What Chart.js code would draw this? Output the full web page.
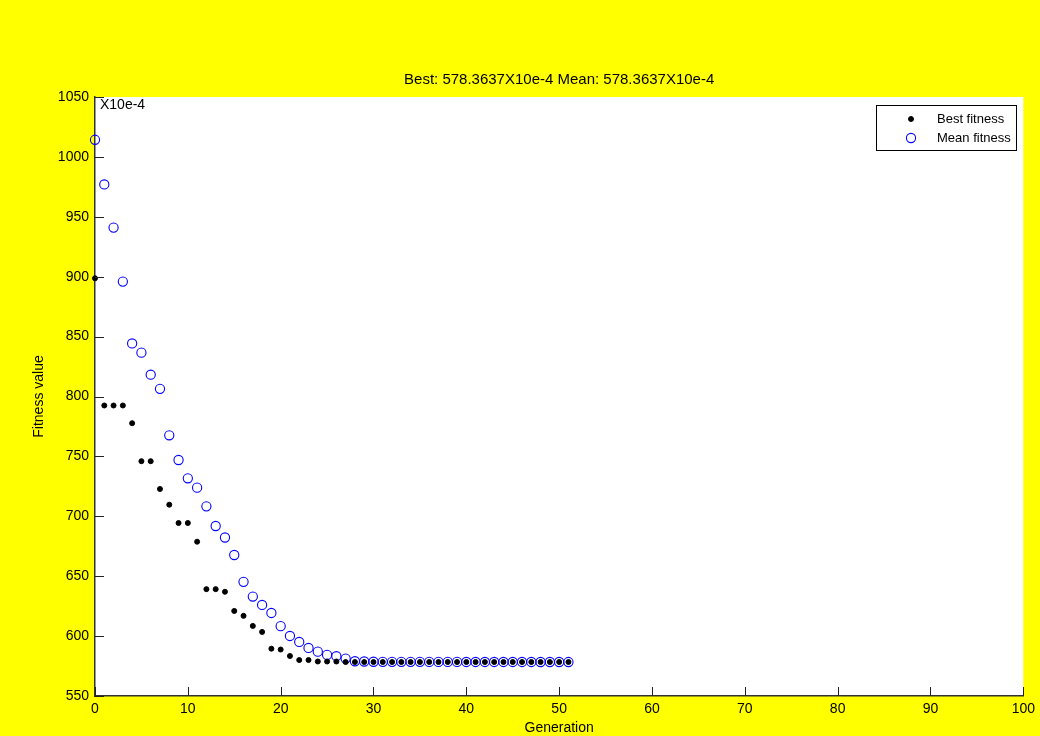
<!DOCTYPE html>
<html>
<head>
<meta charset="utf-8">
<script src="https://cdn.jsdelivr.net/npm/chart.js@4"></script>
<style>
html,body{margin:0;padding:0;background:#ffff00;}
canvas{display:block;}
</style>
</head>
<body>
<canvas id="c" width="1040" height="736"></canvas>
<script>
const generations = [0,1,2,3,4,5,6,7,8,9,10,11,12,13,14,15,16,17,18,19,20,21,22,23,24,25,26,27,28,29,30,31,32,33,34,35,36,37,38,39,40,41,42,43,44,45,46,47,48,49,50,51];
const bestFitness = [898.7,792.5,792.5,792.5,777.7,746,746,722.8,709.7,694.4,694.4,678.8,639.2,639.2,637,621,616.9,608.5,603.5,589.5,588.8,583.4,580,580,578.8,578.8,578.8,578.3637,578.3637,578.3637,578.3637,578.3637,578.3637,578.3637,578.3637,578.3637,578.3637,578.3637,578.3637,578.3637,578.3637,578.3637,578.3637,578.3637,578.3637,578.3637,578.3637,578.3637,578.3637,578.3637,578.3637,578.3637];
const meanFitness = [1014.3,977,941,895.9,844.3,836.6,818.2,806.4,767.6,747,731.7,723.9,708.3,691.9,682.3,667.7,645.3,633,626,619.3,608.3,600.1,595.1,590.1,587,584.3,583.2,581.2,579,578.8,578.6,578.5,578.5,578.5,578.5,578.5,578.45,578.45,578.45,578.45,578.4,578.4,578.4,578.4,578.4,578.4,578.4,578.4,578.38,578.38,578.37,578.3637];
const xTicks = [0,10,20,30,40,50,60,70,80,90,100];
const yTicks = [550,600,650,700,750,800,850,900,950,1000,1050];
const seriesLabels = ['Best fitness','Mean fitness'];
const titleText = 'Best: 578.3637X10e-4 Mean: 578.3637X10e-4';
const xTitle = 'Generation';
const yTitle = 'Fitness value';
const exponentText = 'X10e-4';

const FONT = '"Liberation Sans", Arial, Helvetica, sans-serif';

const decor = {
  id: 'decor',
  beforeDraw(chart) {
    const {ctx, chartArea: a} = chart;
    ctx.save();
    ctx.fillStyle = '#ffff00';
    ctx.fillRect(0, 0, chart.width, chart.height);
    ctx.fillStyle = '#ffffff';
    ctx.fillRect(a.left, a.top, a.right - a.left, a.bottom - a.top);
    ctx.restore();
  },
  afterDraw(chart) {
    const {ctx, chartArea: a, scales} = chart;
    ctx.save();
    // inward tick marks
    ctx.strokeStyle = '#222';
    ctx.lineWidth = 1;
    xTicks.forEach(v => {
      const x = Math.round(scales.x.getPixelForValue(v)) + 0.5;
      ctx.beginPath(); ctx.moveTo(x, a.bottom); ctx.lineTo(x, a.bottom - 9); ctx.stroke();
    });
    yTicks.forEach(v => {
      const y = Math.round(scales.y.getPixelForValue(v)) + 0.5;
      ctx.beginPath(); ctx.moveTo(a.left, y); ctx.lineTo(a.left + 9, y); ctx.stroke();
    });
    // title
    ctx.fillStyle = '#000';
    ctx.textAlign = 'center';
    ctx.textBaseline = 'middle';
    ctx.font = '15px ' + FONT;
    ctx.fillText(titleText, (a.left + a.right) / 2, 80);
    // x title
    ctx.font = '14px ' + FONT;
    ctx.fillText(xTitle, (a.left + a.right) / 2, 728);
    // y title
    ctx.save();
    ctx.translate(39, (a.top + a.bottom) / 2);
    ctx.rotate(-Math.PI / 2);
    ctx.fillText(yTitle, 0, 0);
    ctx.restore();
    // exponent
    ctx.textAlign = 'left';
    ctx.fillText(exponentText, a.left + 5, a.top + 8);
    // legend
    const lx = 876, ly = 105, lw = 140, lh = 45;
    ctx.fillStyle = '#fff';
    ctx.fillRect(lx, ly, lw, lh);
    ctx.strokeStyle = '#000';
    ctx.lineWidth = 1;
    ctx.strokeRect(lx + 0.5, ly + 0.5, lw, lh);
    ctx.font = '13px ' + FONT;
    ctx.textBaseline = 'middle';
    const rows = [ly + 14, ly + 33];
    chart.data.datasets.forEach((ds, i) => {
      const cy = rows[i], cx = 911;
      ctx.beginPath();
      ctx.arc(cx, cy, ds.pointRadius, 0, Math.PI * 2);
      if (ds.pointBackgroundColor && ds.pointBackgroundColor !== 'transparent') {
        ctx.fillStyle = ds.pointBackgroundColor; ctx.fill();
      }
      ctx.strokeStyle = ds.pointBorderColor; ctx.lineWidth = ds.pointBorderWidth; ctx.stroke();
      ctx.fillStyle = '#000';
      ctx.fillText(ds.label, 937, cy);
    });
    ctx.restore();
  }
};

new Chart(document.getElementById('c'), {
  type: 'scatter',
  data: {
    datasets: [
      {
        label: seriesLabels[0],
        data: generations.map((g, i) => ({x: g, y: bestFitness[i]})),
        pointRadius: 2.5,
        pointBackgroundColor: '#000000',
        pointBorderColor: '#000000',
        pointBorderWidth: 1,
        showLine: false,
        clip: false
      },
      {
        label: seriesLabels[1],
        data: generations.map((g, i) => ({x: g, y: meanFitness[i]})),
        pointRadius: 4.6,
        pointBackgroundColor: 'transparent',
        pointBorderColor: '#0000ff',
        pointBorderWidth: 1.1,
        showLine: false,
        clip: false
      }
    ]
  },
  options: {
    responsive: false,
    animation: false,
    devicePixelRatio: 1,
    layout: {padding: {top: 97, right: 16, left: 0, bottom: 0}},
    plugins: {legend: {display: false}, title: {display: false}, tooltip: {enabled: false}},
    scales: {
      x: {
        type: 'linear', min: 0, max: 100,
        afterFit: s => { s.height = 40; },
        afterBuildTicks: s => { s.ticks = xTicks.map(v => ({value: v})); },
        ticks: {color: '#000', font: {family: FONT, size: 14}, padding: 5, maxRotation: 0, autoSkip: false, callback: v => String(v)},
        grid: {drawOnChartArea: false, drawTicks: false},
        border: {display: true, color: '#333', width: 1.5}
      },
      y: {
        type: 'linear', min: 550, max: 1050,
        afterFit: s => { s.width = 95; },
        afterBuildTicks: s => { s.ticks = yTicks.map(v => ({value: v})); },
        ticks: {color: '#000', font: {family: FONT, size: 14}, padding: 6, autoSkip: false, callback: v => String(v)},
        grid: {drawOnChartArea: false, drawTicks: false},
        border: {display: true, color: '#333', width: 1.5}
      }
    }
  },
  plugins: [decor]
});
</script>
</body>
</html>
